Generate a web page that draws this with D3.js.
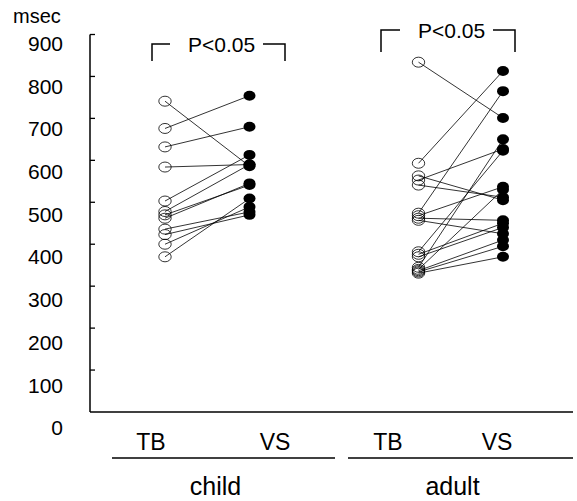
<!DOCTYPE html>
<html>
<head>
<meta charset="utf-8">
<script src="https://cdn.jsdelivr.net/npm/d3@7"></script>
<style>
  body { margin: 0; background: #fff; }
  svg { display: block; font-family: "Liberation Sans", Arial, sans-serif; }
</style>
</head>
<body>
<svg width="577" height="501"></svg>
<script>
// tick values on the y axis
var yTicks = [0, 100, 200, 300, 400, 500, 600, 700, 800, 900];

// group / condition labels
var groups = ['child', 'adult'];
var conditions = ['TB', 'VS'];

// paired values (msec)
var childTB = [741, 676, 632, 584, 503, 478, 470, 462, 436, 423, 400, 370];
var childVS = [586, 754, 680, 590, 613, 590, 541, 545, 477, 470, 489, 509];

var adultTB = [834, 593, 563, 553, 541, 474, 468, 462, 457, 382, 376, 370, 345, 340, 337, 334, 331];
var adultVS = [701, 813, 505, 627, 512, 765, 537, 457, 425, 623, 450, 440, 650, 530, 410, 395, 370];

var pLabels = ['P<0.05', 'P<0.05'];

var svg = d3.select('svg');

var y = d3.scaleLinear().domain([0, 900]).range([412, 34.5]);
// labels sit a bit lower than their ticks in the original
var yLab = d3.scaleLinear().domain([0, 900]).range([428, 43.5]);

// x positions for each group/condition
var x = d3.scalePoint()
  .domain(['child-TB', 'child-VS', 'gap', 'adult-TB', 'adult-VS'])
  .range([165, 503]);
function xPos(g, c) {
  return x(g + '-' + c);
}

// axis line + ticks
var axisX = 90;
svg.append('line')
  .attr('x1', axisX).attr('x2', axisX)
  .attr('y1', y(900)).attr('y2', y(0))
  .attr('stroke', '#000').attr('stroke-width', 1.5);
svg.append('line')
  .attr('x1', axisX).attr('x2', 573)
  .attr('y1', y(0)).attr('y2', y(0))
  .attr('stroke', '#000').attr('stroke-width', 1.5);

svg.selectAll('.tick')
  .data(yTicks.filter(d => d > 0)).enter()
  .append('line')
  .attr('x1', axisX).attr('x2', axisX + 5)
  .attr('y1', d => y(d)).attr('y2', d => y(d))
  .attr('stroke', '#000').attr('stroke-width', 1.3);

svg.selectAll('.tlabel')
  .data(yTicks).enter()
  .append('text')
  .attr('x', 63)
  .attr('y', d => yLab(d))
  .attr('dy', '0.35em')
  .attr('text-anchor', 'end')
  .attr('font-size', '21px')
  .text(d => d);

svg.append('text')
  .attr('x', 13).attr('y', 23)
  .attr('font-size', '20px')
  .text('msec');

// draw each group's paired lines and points
function drawGroup(g, tb, vs) {
  var pairs = tb.map((d, i) => ({tb: d, vs: vs[i]}));
  var x1 = xPos(g, 'TB'), x2 = xPos(g, 'VS');
  var layer = svg.append('g');

  layer.selectAll('line')
    .data(pairs).enter()
    .append('line')
    .attr('x1', x1).attr('y1', d => y(d.tb))
    .attr('x2', x2).attr('y2', d => y(d.vs))
    .attr('stroke', '#000').attr('stroke-width', 0.8);

  layer.selectAll('.open')
    .data(pairs).enter()
    .append('ellipse')
    .attr('cx', x1).attr('cy', d => y(d.tb))
    .attr('rx', 6.2).attr('ry', 5)
    .attr('fill', 'none').attr('stroke', '#000').attr('stroke-width', 0.8);

  layer.selectAll('.fill')
    .data(pairs).enter()
    .append('ellipse')
    .attr('cx', x2).attr('cy', d => y(d.vs))
    .attr('rx', 6).attr('ry', 5)
    .attr('fill', '#000');
}

drawGroup('child', childTB, childVS);
drawGroup('adult', adultTB, adultVS);

// significance brackets
var brackets = [
  {x1: 152, x2: 285, top: 44, bottom: 61, tx: 188, tw: 72},
  {x1: 381, x2: 515, top: 30, bottom: 52, tx: 418, tw: 72}
];
brackets.forEach((b, i) => {
  svg.append('path')
    .attr('d', 'M' + b.x1 + ',' + b.bottom + 'V' + b.top + 'H' + (b.tx - 18))
    .attr('fill', 'none').attr('stroke', '#000').attr('stroke-width', 1.5);
  svg.append('path')
    .attr('d', 'M' + (b.tx + b.tw + 3) + ',' + b.top + 'H' + b.x2 + 'V' + b.bottom)
    .attr('fill', 'none').attr('stroke', '#000').attr('stroke-width', 1.5);
  svg.append('text')
    .attr('x', b.tx).attr('y', b.top + 8)
    .attr('font-size', '21px')
    .text(pLabels[i]);
});

// condition labels and group underlines
var labX = {'child-TB': 151, 'child-VS': 275, 'adult-TB': 388, 'adult-VS': 497};
groups.forEach(g => {
  conditions.forEach(c => {
    svg.append('text')
      .attr('x', labX[g + '-' + c]).attr('y', 450)
      .attr('text-anchor', 'middle')
      .attr('font-size', '23px')
      .text(c);
  });
});

var under = {child: [112, 335], adult: [348, 573]};
groups.forEach(g => {
  svg.append('line')
    .attr('x1', under[g][0]).attr('x2', under[g][1])
    .attr('y1', 458).attr('y2', 458)
    .attr('stroke', '#000').attr('stroke-width', 1.3);
  svg.append('text')
    .attr('x', (under[g][0] + under[g][1]) / 2 - 8)
    .attr('y', 495)
    .attr('text-anchor', 'middle')
    .attr('font-size', '25px')
    .text(g);
});
</script>
</body>
</html>
